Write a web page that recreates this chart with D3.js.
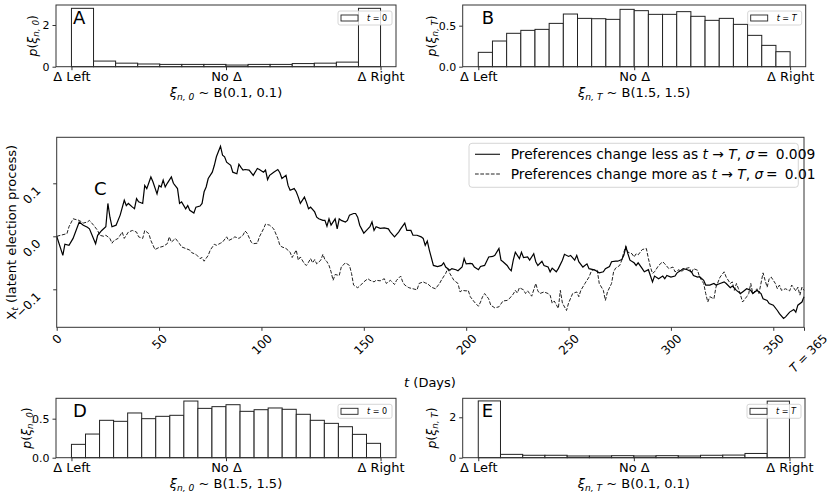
<!DOCTYPE html>
<html>
<head>
<meta charset="utf-8">
<script src="https://cdn.jsdelivr.net/npm/d3@7"></script>
<style>
  body { margin: 0; background: #fff; }
  svg { font-family: 'DejaVu Sans', sans-serif; }
</style>
</head>
<body>
<script>
// histogram densities (equal bins over [0, 1])
const histA = [2.8, 0.27, 0.17, 0.13, 0.11, 0.11, 0.11, 0.08, 0.11, 0.11, 0.15, 0.17, 0.22, 2.8];
const histB = [0.175, 0.313, 0.407, 0.443, 0.455, 0.528, 0.642, 0.589, 0.585, 0.577, 0.699,
  0.683, 0.638, 0.638, 0.671, 0.614, 0.565, 0.589, 0.516, 0.382, 0.26, 0.183];
const histD = [0.171, 0.303, 0.479, 0.466, 0.573, 0.5, 0.53, 0.543, 0.726, 0.632, 0.654,
  0.679, 0.594, 0.615, 0.637, 0.62, 0.556, 0.479, 0.44, 0.397, 0.299, 0.184];
const histE = [2.81, 0.165, 0.12, 0.12, 0.085, 0.085, 0.1, 0.085, 0.1, 0.085, 0.12, 0.13, 0.21, 2.8];
const histTicks = ['Δ Left', 'No Δ', 'Δ Right'];

// latent election process, [day, value]
const dayTicks = [0, 50, 100, 150, 200, 250, 300, 350, 365];
const valueTicks = [-0.1, 0, 0.1];

const lessChange = [[0,0],[3,-0.036],[4,-0.015],[6,-0.017],[8,-0.004],[11,0.027],[13,0.021],[15,0.017],[16,0.014],
  [19,-0.014],[20,0.002],[22,0.011],[24,0.018],[25,0.062],[26,0.036],[27,0.018],[29,0.021],[31,0.04],[33,0.068],
  [34,0.058],[35,0.062],[37,0.055],[38,0.052],[39,0.071],[40,0.065],[42,0.062],[43,0.096],[44,0.09],[46,0.112],
  [47,0.103],[49,0.08],[50,0.096],[51,0.093],[52,0.106],[53,0.093],[54,0.1],[56,0.112],[57,0.1],[59,0.09],
  [60,0.062],[61,0.065],[63,0.052],[64,0.058],[65,0.049],[67,0.044],[68,0.055],[70,0.057],[71,0.062],[72,0.084],
  [73,0.093],[74,0.109],[76,0.121],[77,0.134],[78,0.15],[80,0.17],[81,0.153],[82,0.15],[83,0.14],[85,0.134],
  [86,0.121],[88,0.118],[89,0.136],[90,0.13],[91,0.125],[92,0.126],[94,0.125],[96,0.115],[98,0.128],[99,0.126],
  [101,0.121],[102,0.125],[103,0.107],[104,0.115],[106,0.121],[108,0.126],[109,0.12],[110,0.109],[112,0.115],
  [113,0.096],[114,0.087],[116,0.09],[117,0.084],[118,0.074],[119,0.062],[121,0.074],[122,0.064],[123,0.052],
  [124,0.055],[126,0.046],[127,0.036],[128,0.033],[130,0.03],[131,0.03],[132,0.019],[133,0.033],[134,0.021],
  [136,0.033],[137,0.014],[138,0.033],[139,0.03],[141,0.027],[142,0.03],[143,0.04],[145,0.043],[146,0.043],
  [147,0.036],[148,0.021],[150,0.006],[152,0.014],[153,0.018],[154,0.027],[155,0.011],[156,0.018],[158,0.015],
  [160,0.016],[162,0.014],[163,0.008],[165,-0.001],[167,0.008],[168,0.014],[170,0.025],[171,0.011],[173,0.011],
  [174,0.002],[176,0.002],[178,-0.001],[179,-0.004],[180,-0.017],[181,-0.009],[182,-0.026],[184,-0.055],
  [186,-0.057],[188,-0.055],[189,-0.05],[190,-0.058],[192,-0.064],[193,-0.061],[195,-0.063],[196,-0.065],
  [198,-0.058],[199,-0.042],[200,-0.052],[202,-0.051],[203,-0.052],[204,-0.058],[206,-0.063],[207,-0.057],
  [209,-0.055],[211,-0.039],[213,-0.038],[214,-0.036],[216,-0.023],[217,-0.045],[218,-0.048],[220,-0.055],
  [221,-0.061],[222,-0.065],[223,-0.045],[224,-0.03],[226,-0.042],[227,-0.03],[228,-0.04],[230,-0.039],
  [231,-0.045],[233,-0.033],[234,-0.048],[235,-0.055],[237,-0.047],[238,-0.055],[240,-0.058],[241,-0.067],
  [242,-0.06],[244,-0.067],[245,-0.061],[247,-0.045],[248,-0.034],[250,-0.038],[251,-0.036],[253,-0.045],
  [254,-0.036],[255,-0.048],[257,-0.058],[259,-0.052],[260,-0.061],[262,-0.063],[263,-0.064],[265,-0.069],
  [267,-0.067],[268,-0.061],[270,-0.057],[271,-0.048],[273,-0.047],[274,-0.047],[276,-0.044],[277,-0.036],
  [278,-0.02],[279,-0.033],[280,-0.045],[282,-0.05],[283,-0.055],[284,-0.05],[286,-0.061],[287,-0.067],
  [289,-0.063],[291,-0.086],[292,-0.075],[294,-0.08],[296,-0.075],[297,-0.08],[298,-0.074],[300,-0.077],
  [302,-0.075],[303,-0.069],[305,-0.064],[306,-0.061],[308,-0.063],[310,-0.067],[311,-0.074],[313,-0.077],
  [314,-0.076],[316,-0.083],[317,-0.092],[319,-0.092],[321,-0.089],[322,-0.092],[324,-0.089],[326,-0.086],
  [327,-0.089],[329,-0.097],[330,-0.094],[332,-0.102],[334,-0.108],[335,-0.105],[337,-0.099],[339,-0.102],
  [340,-0.108],[342,-0.102],[344,-0.108],[345,-0.118],[347,-0.121],[348,-0.127],[350,-0.13],[352,-0.14],
  [353,-0.146],[355,-0.155],[356,-0.152],[358,-0.143],[360,-0.138],[361,-0.143],[362,-0.13],[364,-0.124],
  [365,-0.114]];

const moreChange = [[0,0],[2,0.002],[5,0.005],[6,0.018],[8,0.033],[10,0.031],[11,0.03],[13,0.025],[15,0.027],
  [16,0.03],[18,0.021],[20,0.011],[21,0.002],[23,0],[24,0.002],[26,-0.004],[27,-0.013],[28,-0.008],[30,-0.004],
  [32,0.008],[33,-0.004],[35,0.008],[37,0.011],[39,0.008],[40,-0.001],[42,-0.004],[43,0.011],[45,0.005],
  [46,-0.008],[48,-0.025],[50,-0.021],[52,-0.019],[54,-0.014],[55,-0.001],[56,-0.011],[58,-0.004],[60,-0.014],
  [61,-0.02],[63,-0.023],[65,-0.026],[66,-0.031],[68,-0.034],[70,-0.042],[71,-0.04],[72,-0.047],[74,-0.036],
  [75,-0.026],[77,-0.015],[78,-0.017],[80,-0.013],[81,-0.011],[83,-0.001],[84,-0.008],[86,-0.004],[87,-0.001],
  [89,-0.004],[90,-0.001],[91,0.002],[92,0.01],[93,0.006],[95,-0.011],[96,-0.014],[98,-0.013],[99,-0.001],
  [101,0.014],[102,0.023],[104,0.021],[106,0.014],[108,-0.004],[109,-0.017],[110,-0.02],[112,-0.023],
  [114,-0.03],[115,-0.04],[116,-0.033],[117,-0.026],[118,-0.045],[119,-0.039],[121,-0.052],[122,-0.055],
  [123,-0.049],[124,-0.042],[125,-0.05],[126,-0.044],[127,-0.052],[129,-0.045],[130,-0.034],[131,-0.044],
  [132,-0.048],[133,-0.055],[134,-0.067],[135,-0.083],[136,-0.072],[138,-0.074],[139,-0.058],[141,-0.05],
  [143,-0.055],[144,-0.07],[145,-0.092],[147,-0.097],[148,-0.094],[150,-0.086],[152,-0.08],[153,-0.083],
  [155,-0.086],[156,-0.083],[158,-0.084],[160,-0.08],[161,-0.089],[163,-0.083],[165,-0.091],[166,-0.083],
  [168,-0.075],[169,-0.086],[170,-0.092],[172,-0.097],[174,-0.099],[176,-0.101],[177,-0.089],[179,-0.086],
  [180,-0.088],[181,-0.089],[183,-0.096],[185,-0.099],[187,-0.089],[188,-0.082],[190,-0.07],[191,-0.061],
  [192,-0.07],[194,-0.083],[196,-0.089],[197,-0.105],[198,-0.102],[200,-0.103],[201,-0.102],[202,-0.114],
  [204,-0.124],[206,-0.132],[207,-0.124],[208,-0.114],[209,-0.108],[211,-0.118],[212,-0.13],[214,-0.135],
  [216,-0.133],[218,-0.122],[220,-0.121],[221,-0.118],[223,-0.109],[224,-0.102],[225,-0.107],[226,-0.097],
  [228,-0.101],[229,-0.108],[230,-0.103],[232,-0.113],[234,-0.089],[235,-0.103],[236,-0.108],[238,-0.105],
  [240,-0.108],[241,-0.111],[242,-0.126],[243,-0.122],[245,-0.136],[246,-0.102],[247,-0.126],[249,-0.14],
  [250,-0.126],[252,-0.108],[254,-0.105],[255,-0.114],[256,-0.102],[258,-0.089],[260,-0.077],[261,-0.067],
  [262,-0.063],[264,-0.064],[265,-0.089],[267,-0.102],[268,-0.121],[269,-0.105],[271,-0.089],[272,-0.067],
  [273,-0.06],[275,-0.055],[276,-0.045],[277,-0.03],[278,-0.019],[279,-0.03],[281,-0.033],[282,-0.039],
  [283,-0.033],[284,-0.035],[286,-0.025],[288,-0.023],[289,-0.042],[290,-0.058],[291,-0.07],[292,-0.067],
  [294,-0.055],[296,-0.048],[297,-0.052],[299,-0.061],[301,-0.058],[302,-0.067],[304,-0.063],[305,-0.067],
  [307,-0.061],[309,-0.059],[310,-0.07],[311,-0.061],[313,-0.064],[314,-0.077],[316,-0.089],[317,-0.108],
  [318,-0.124],[319,-0.114],[321,-0.118],[322,-0.096],[324,-0.077],[326,-0.067],[327,-0.077],[329,-0.089],
  [330,-0.086],[331,-0.102],[332,-0.089],[333,-0.099],[334,-0.111],[335,-0.124],[337,-0.114],[338,-0.108],
  [339,-0.089],[340,-0.108],[342,-0.099],[343,-0.108],[345,-0.069],[346,-0.083],[347,-0.096],[348,-0.08],
  [349,-0.077],[351,-0.089],[352,-0.099],[353,-0.092],[354,-0.102],[356,-0.099],[358,-0.103],[359,-0.092],
  [361,-0.103],[362,-0.096],[363,-0.111],[364,-0.096],[365,-0.102]];

const svg = d3.select('body').append('svg')
  .attr('width', 831)
  .attr('height', 497);

const INK = '#222';
const SPINE = '#333';

// write mixed text: parts are [string, kind], kind '' | 'i' | 'sub'
function writeParts(text, parts, size) {
  let shift = 0;
  parts.forEach(([str, kind]) => {
    const t = text.append('tspan').text(str);
    if (kind === 'i' || kind === 'sub') t.style('font-style', 'italic');
    const want = kind === 'sub' ? size * 0.28 : 0;
    if (want !== shift) { t.attr('dy', want - shift); shift = want; }
    if (kind === 'sub') t.attr('font-size', size * 0.7);
  });
  return text;
}

function styleAxis(g, size) {
  g.attr('font-family', null).attr('font-size', size);
  g.select('.domain').remove();
  g.selectAll('line').attr('stroke', SPINE);
  g.selectAll('text').attr('fill', '#000');
}

// ---- histogram panels
function histPanel(p) {
  const x = d3.scaleLinear().domain([-0.05, 1.05]).range([p.left, p.right]);
  const y = d3.scaleLinear().domain([0, p.yMax]).range([p.bottom, p.top]);
  const bw = 1 / p.values.length;
  const g = svg.append('g');

  g.selectAll('rect.bar')
    .data(p.values)
    .join('rect')
    .attr('class', 'bar')
    .attr('x', (d, i) => x(i * bw))
    .attr('width', x(bw) - x(0))
    .attr('y', d => y(d))
    .attr('height', d => y(0) - y(d))
    .attr('fill', 'white')
    .attr('stroke', INK)
    .attr('stroke-width', 1);

  g.append('rect')
    .attr('x', p.left).attr('y', p.top)
    .attr('width', p.right - p.left).attr('height', p.bottom - p.top)
    .attr('fill', 'none').attr('stroke', SPINE);

  g.append('g')
    .attr('transform', `translate(0,${p.bottom})`)
    .call(d3.axisBottom(x).tickValues([0, 0.5, 1]).tickFormat((d, i) => histTicks[i]).tickSize(3.5).tickPadding(1.5))
    .call(a => styleAxis(a, 13));

  g.append('g')
    .attr('transform', `translate(${p.left},0)`)
    .call(d3.axisLeft(y).tickValues(p.yTicks).tickFormat(p.yFormat).tickSize(3.5).tickPadding(3))
    .call(a => styleAxis(a, 11));

  // panel letter
  g.append('text').attr('x', p.left + p.letterDx).attr('y', p.top + 19)
    .attr('font-size', 18).text(p.letter);

  // legend
  const lx = p.right - 58, ly = p.top + 6;
  g.append('rect').attr('x', lx).attr('y', ly).attr('width', 54).attr('height', 14).attr('rx', 2)
    .attr('fill', 'white').attr('fill-opacity', 0.8).attr('stroke', '#ccc').attr('stroke-width', 0.8);
  g.append('rect').attr('x', lx + 3).attr('y', ly + 4).attr('width', 17).attr('height', 6)
    .attr('fill', 'white').attr('stroke', INK).attr('stroke-width', 0.9);
  writeParts(g.append('text').attr('x', lx + 29).attr('y', ly + 10).attr('font-size', 8), p.legend, 8);

  // axis labels
  writeParts(g.append('text')
    .attr('transform', `translate(${p.yLabelX},${(p.top + p.bottom) / 2}) rotate(-90)`)
    .attr('text-anchor', 'middle').attr('dominant-baseline', 'central').attr('font-size', 12.5), p.yLabel, 12.5);
  writeParts(g.append('text')
    .attr('x', (p.left + p.right) / 2).attr('y', p.bottom + 30)
    .attr('text-anchor', 'middle').attr('font-size', 13), p.xLabel, 13);
}

const sub0 = 'n, 0', subT = 'n, T';
histPanel({ values: histA, left: 56, right: 396, top: 5, bottom: 66.7, yMax: 2.96, yTicks: [0, 2],
  yFormat: d3.format('d'), letter: 'A', letterDx: 17, legend: [['t', 'i'], [' = 0', '']], yLabelX: 32,
  yLabel: [['p', 'i'], ['(', ''], ['ξ', 'i'], [sub0, 'sub'], [')', '']],
  xLabel: [['ξ', 'i'], [sub0, 'sub'], [' ~  B(0.1, 0.1)', '']] });
histPanel({ values: histB, left: 462.7, right: 805.7, top: 5, bottom: 66.7, yMax: 0.752, yTicks: [0, 0.5],
  yFormat: d3.format('.1f'), letter: 'B', letterDx: 19, legend: [['t', 'i'], [' = ', ''], ['T', 'i']], yLabelX: 431,
  yLabel: [['p', 'i'], ['(', ''], ['ξ', 'i'], [subT, 'sub'], [')', '']],
  xLabel: [['ξ', 'i'], [subT, 'sub'], [' ~  B(1.5, 1.5)', '']] });
histPanel({ values: histD, left: 56, right: 396, top: 398.3, bottom: 457.7, yMax: 0.761, yTicks: [0, 0.5],
  yFormat: d3.format('.1f'), letter: 'D', letterDx: 17, legend: [['t', 'i'], [' = 0', '']], yLabelX: 26,
  yLabel: [['p', 'i'], ['(', ''], ['ξ', 'i'], [sub0, 'sub'], [')', '']],
  xLabel: [['ξ', 'i'], [sub0, 'sub'], [' ~  B(1.5, 1.5)', '']] });
histPanel({ values: histE, left: 462.7, right: 805, top: 398.3, bottom: 457.7, yMax: 2.94, yTicks: [0, 2],
  yFormat: d3.format('d'), letter: 'E', letterDx: 19, legend: [['t', 'i'], [' = ', ''], ['T', 'i']], yLabelX: 431,
  yLabel: [['p', 'i'], ['(', ''], ['ξ', 'i'], [subT, 'sub'], [')', '']],
  xLabel: [['ξ', 'i'], [subT, 'sub'], [' ~  B(0.1, 0.1)', '']] });

// ---- main panel C
const cl = 56.7, cr = 804, ct = 137.3, cb = 327.3;
const x = d3.scaleLinear().domain([0, 365]).range([cl, cr]);
const y = d3.scaleLinear().domain([-0.1717, 0.1868]).range([cb, ct]);
const main = svg.append('g');

const line = d3.line().x(d => x(d[0])).y(d => y(d[1]));
main.append('path').datum(moreChange).attr('d', line)
  .attr('fill', 'none').attr('stroke', INK).attr('stroke-width', 1).attr('stroke-dasharray', '3.7,1.6');
main.append('path').datum(lessChange).attr('d', line)
  .attr('fill', 'none').attr('stroke', '#000').attr('stroke-width', 1.2);

main.append('rect')
  .attr('x', cl).attr('y', ct).attr('width', cr - cl).attr('height', cb - ct)
  .attr('fill', 'none').attr('stroke', SPINE);

// x tick labels: rotated 45°, bounding box centred under the tick
const xAxisG = main.append('g')
  .attr('transform', `translate(0,${cb})`)
  .call(d3.axisBottom(x).tickValues(dayTicks).tickSize(3.5))
  .call(a => styleAxis(a, 12));
xAxisG.selectAll('text').filter(d => d === 365).text(null)
  .call(t => writeParts(t, [['T', 'i'], [' = 365', '']], 12));
xAxisG.selectAll('text').each(function (d) {
  const w = this.getComputedTextLength();
  const s = (w + 9) * 0.7071;
  d3.select(this).attr('y', null).attr('dy', null)
    .attr('text-anchor', 'middle').attr('dominant-baseline', 'central')
    .attr('transform', `translate(${d === 365 ? 4 : 0},${6 + s / 2}) rotate(-45)`);
});

// y tick labels: rotated about their end, right edge at x = 41.5
const yAxisG = main.append('g')
  .attr('transform', `translate(${cl},0)`)
  .call(d3.axisLeft(y).tickValues(valueTicks).tickFormat(d3.format('.1f')).tickSize(3.5))
  .call(a => styleAxis(a, 12));
yAxisG.selectAll('text')
  .attr('x', null).attr('dy', null).attr('text-anchor', 'end')
  .attr('transform', `translate(${41.5 - cl},7.5) rotate(-45)`);

main.append('text').attr('x', 94).attr('y', 195).attr('font-size', 18).text('C');

writeParts(main.append('text')
  .attr('transform', `translate(11,${(ct + cb) / 2}) rotate(-90)`)
  .attr('text-anchor', 'middle').attr('dominant-baseline', 'central').attr('font-size', 13),
  [['X', ''], ['t', 'sub'], [' (latent election process)', '']], 13);

writeParts(main.append('text')
  .attr('x', 430).attr('y', 387).attr('text-anchor', 'middle').attr('font-size', 13),
  [['t', 'i'], [' (Days)', '']], 13);

// legend
const leg = main.append('g');
leg.append('rect').attr('x', 469).attr('y', 143.3).attr('width', 329.3).attr('height', 44).attr('rx', 3)
  .attr('fill', 'white').attr('fill-opacity', 0.8).attr('stroke', '#ccc').attr('stroke-width', 0.8);
const legendRows = [
  { yy: 154.3, dash: null, w: 1.2, parts: [['Preferences change less as ', ''], ['t', 'i'], [' → ', ''], ['T', 'i'], [', ', ''], ['σ', 'i'], ['\u2009=\u2009 0.009', '']] },
  { yy: 174, dash: '3.7,1.6', w: 1, parts: [['Preferences change more as ', ''], ['t', 'i'], [' → ', ''], ['T', 'i'], [', ', ''], ['σ', 'i'], ['\u2009=\u2009 0.01', '']] }
];
legendRows.forEach(r => {
  leg.append('line').attr('x1', 475).attr('x2', 500).attr('y1', r.yy).attr('y2', r.yy)
    .attr('stroke', INK).attr('stroke-width', r.w).attr('stroke-dasharray', r.dash);
  writeParts(leg.append('text').attr('x', 510.7).attr('y', r.yy + 5).attr('font-size', 13.8), r.parts, 13.8);
});
</script>
</body>
</html>
